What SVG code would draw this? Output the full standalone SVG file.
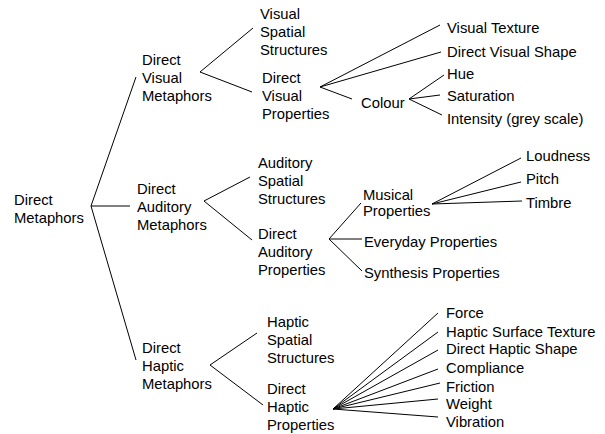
<svg xmlns="http://www.w3.org/2000/svg" width="605" height="434" viewBox="0 0 605 434">
<style>
text{font-family:"Liberation Sans",Arial,sans-serif;font-size:14.8px;fill:#000}
.c line{stroke:#000;stroke-width:1;fill:none}
</style>
<rect width="605" height="434" fill="#fff"/>
<g class="c" id="connectors">
<line x1="91" y1="206" x2="136" y2="77"/>
<line x1="91" y1="206" x2="130" y2="206"/>
<line x1="91" y1="206" x2="136" y2="360"/>
<line x1="200" y1="72" x2="253" y2="28"/>
<line x1="200" y1="72" x2="252" y2="92"/>
<line x1="320" y1="87" x2="440" y2="25"/>
<line x1="320" y1="87" x2="441" y2="52"/>
<line x1="320" y1="87" x2="352" y2="99"/>
<line x1="409" y1="99" x2="444" y2="75"/>
<line x1="409" y1="99" x2="440" y2="95"/>
<line x1="409" y1="99" x2="442" y2="115"/>
<line x1="204" y1="201" x2="250" y2="177"/>
<line x1="204" y1="201" x2="252" y2="240"/>
<line x1="329" y1="239" x2="361" y2="203"/>
<line x1="329" y1="239" x2="362" y2="239"/>
<line x1="329" y1="239" x2="362" y2="271"/>
<line x1="432" y1="204" x2="521" y2="158"/>
<line x1="432" y1="204" x2="521" y2="182"/>
<line x1="432" y1="204" x2="522" y2="201"/>
<line x1="210" y1="365" x2="257" y2="333"/>
<line x1="210" y1="365" x2="263" y2="405"/>
<line x1="333" y1="409" x2="438" y2="313"/>
<line x1="333" y1="409" x2="438" y2="332"/>
<line x1="333" y1="409" x2="438" y2="350"/>
<line x1="333" y1="409" x2="438" y2="369"/>
<line x1="333" y1="409" x2="440" y2="383"/>
<line x1="333" y1="409" x2="438" y2="399"/>
<line x1="333" y1="409" x2="438" y2="417"/>
</g>
<g id="direct-metaphors"><text x="14" y="205">Direct</text><text x="14" y="223">Metaphors</text></g>
<g id="direct-visual-metaphors"><text x="142" y="65">Direct</text><text x="142" y="83">Visual</text><text x="142" y="101">Metaphors</text></g>
<g id="direct-auditory-metaphors"><text x="137" y="194">Direct</text><text x="137" y="212">Auditory</text><text x="137" y="230">Metaphors</text></g>
<g id="direct-haptic-metaphors"><text x="142" y="353">Direct</text><text x="142" y="371">Haptic</text><text x="142" y="389">Metaphors</text></g>
<g id="visual-spatial-structures"><text x="260" y="19">Visual</text><text x="260" y="37">Spatial</text><text x="260" y="55">Structures</text></g>
<g id="direct-visual-properties"><text x="262" y="83">Direct</text><text x="262" y="101">Visual</text><text x="262" y="119">Properties</text></g>
<g id="visual-texture"><text x="447" y="33">Visual Texture</text></g>
<g id="direct-visual-shape"><text x="447" y="57">Direct Visual Shape</text></g>
<g id="colour"><text x="361" y="108">Colour</text></g>
<g id="hue"><text x="447" y="79">Hue</text></g>
<g id="saturation"><text x="447" y="101">Saturation</text></g>
<g id="intensity"><text x="447" y="124">Intensity (grey scale)</text></g>
<g id="auditory-spatial-structures"><text x="258" y="168">Auditory</text><text x="258" y="186">Spatial</text><text x="258" y="204">Structures</text></g>
<g id="direct-auditory-properties"><text x="258" y="239">Direct</text><text x="258" y="257">Auditory</text><text x="258" y="275">Properties</text></g>
<g id="musical-properties"><text x="363" y="200">Musical</text><text x="363" y="216">Properties</text></g>
<g id="loudness"><text x="526" y="161">Loudness</text></g>
<g id="pitch"><text x="526" y="184">Pitch</text></g>
<g id="timbre"><text x="526" y="208">Timbre</text></g>
<g id="everyday-properties"><text x="364" y="247">Everyday Properties</text></g>
<g id="synthesis-properties"><text x="364" y="278">Synthesis Properties</text></g>
<g id="haptic-spatial-structures"><text x="267" y="327">Haptic</text><text x="267" y="345">Spatial</text><text x="267" y="363">Structures</text></g>
<g id="direct-haptic-properties"><text x="267" y="394">Direct</text><text x="267" y="412">Haptic</text><text x="267" y="430">Properties</text></g>
<g id="force"><text x="446" y="318">Force</text></g>
<g id="haptic-surface-texture"><text x="446" y="337">Haptic Surface Texture</text></g>
<g id="direct-haptic-shape"><text x="446" y="354">Direct Haptic Shape</text></g>
<g id="compliance"><text x="446" y="373">Compliance</text></g>
<g id="friction"><text x="446" y="392">Friction</text></g>
<g id="weight"><text x="446" y="409">Weight</text></g>
<g id="vibration"><text x="446" y="427">Vibration</text></g>
</svg>
